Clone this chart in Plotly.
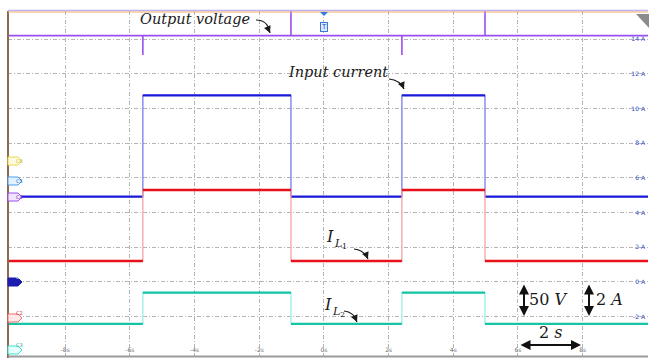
import plotly.graph_objects as go

# switching instants (s)
edge_times = [-5.6, -1.02, 2.41, 4.98]

# visible window: time (s) and vertical span on the 2 A/div scale
t_window = [-9.77, 10.02]
y_window = [-4.27, 15.62]

# channel levels on the right-hand scale (A)
input_current_low, input_current_high = 4.92, 10.75
il1_low, il1_high = 1.21, 5.30
il2_low, il2_high = -2.42, -0.62
vout_level = 14.2
vout_dip = 13.08   # undershoot at turn-on
vout_peak = 16.5   # overshoot at turn-off

x_ticks = [-8, -6, -4, -2, 0, 2, 4, 6, 8, 10]
x_tick_text = ["-8s", "-6s", "-4s", "-2s", "0s", "2s", "4s", "6s", "8s", "10s"]
y_ticks = [-2, 0, 2, 4, 6, 8, 10, 12, 14]
y_tick_text = ["-2 A", "0 A", "2 A", "4 A", "6 A", "8 A", "10 A", "12 A", "14 A"]

W, H = 649, 358
L, R, T, B = 8, 1, 11, 2
PW, PH = W - L - R, H - T - B


def px(xp):
    """screen x (px) -> time"""
    return t_window[0] + (xp - L) / PW * (t_window[1] - t_window[0])


def py(yp):
    """screen y (px) -> amps"""
    return y_window[1] - (yp - T) / PH * (y_window[1] - y_window[0])


def pxp(xp):
    return (xp - L) / PW


def pyp(yp):
    return 1 - (yp - T) / PH


def square(low, high):
    xs, ys = [t_window[0]], [low]
    level = low
    for i, te in enumerate(edge_times):
        new = high if i % 2 == 0 else low
        xs += [te, te]
        ys += [level, new]
        level = new
    xs.append(t_window[1])
    ys.append(level)
    return xs, ys


def flats(low, high):
    xs, ys = [t_window[0]], [low]
    level = low
    for i, te in enumerate(edge_times):
        new = high if i % 2 == 0 else low
        xs += [te, None, te]
        ys += [level, None, new]
        level = new
    xs.append(t_window[1])
    ys.append(level)
    return xs, ys


fig = go.Figure()

channels = [
    (input_current_low, input_current_high, "#1c1cd8", "#6f6ff0", 2.2),
    (il1_low, il1_high, "#e8101a", "#f59a9a", 2.6),
    (il2_low, il2_high, "#14c4a4", "#8ff0e4", 2.2),
]
for low, high, col, edge_col, w in channels:
    xs, ys = square(low, high)
    fig.add_trace(go.Scatter(x=xs, y=ys, mode="lines",
                             line=dict(color=edge_col, width=1.2),
                             hoverinfo="skip", showlegend=False))
    xs, ys = flats(low, high)
    fig.add_trace(go.Scatter(x=xs, y=ys, mode="lines",
                             line=dict(color=col, width=w),
                             hoverinfo="skip", showlegend=False))

# output voltage with switching spikes
vx, vy = [t_window[0]], [vout_level]
for i, te in enumerate(edge_times):
    spike = vout_dip if i % 2 == 0 else vout_peak
    vx += [te, te, te]
    vy += [vout_level, spike, vout_level]
vx.append(t_window[1])
vy.append(vout_level)
fig.add_trace(go.Scatter(x=vx, y=vy, mode="lines",
                         line=dict(color="#9a50f0", width=1.6),
                         hoverinfo="skip", showlegend=False))

shapes = []
# screen frame
shapes.append(dict(type="line", xref="paper", yref="paper", x0=0, x1=0, y0=-0.01, y1=1.0,
                   line=dict(color="#8b6b4b", width=2)))
shapes.append(dict(type="line", xref="paper", yref="paper", x0=0, x1=1, y0=pyp(356.5), y1=pyp(356.5),
                   line=dict(color="#9a9a9a", width=2)))
shapes.append(dict(type="line", xref="paper", yref="paper", x0=0, x1=1, y0=pyp(10.5), y1=pyp(10.5),
                   line=dict(color="#c0b0f4", width=1.5)))
shapes.append(dict(type="line", xref="paper", yref="paper", x0=0, x1=1, y0=pyp(12), y1=pyp(12),
                   line=dict(color="#f2b070", width=1)))
# corner marker
shapes.append(dict(type="path", xref="paper", yref="paper",
                   path=f"M {pxp(636)},{pyp(14)} L {pxp(649)},{pyp(14)} L {pxp(649)},{pyp(28)} Z",
                   fillcolor="#8c8c8c", line=dict(width=0)))
# trigger marker
shapes.append(dict(type="path", xref="paper", yref="paper",
                   path=f"M {pxp(320)},{pyp(12)} L {pxp(328)},{pyp(12)} L {pxp(324)},{pyp(16)} Z",
                   fillcolor="#3a7ad8", line=dict(width=0)))

# channel tags on the left edge
tags = [("C6", 161, "#e8d84a", "#fffbe0", "#c8b830"),
        ("C5", 181, "#4a9ef0", "#e4f2ff", "#2a6ec0"),
        ("C4", 197, "#9a50f0", "#f0e4ff", "#7030c0"),
        ("C8", 282, "#1c1cb0", "#1c1cb0", "#ffffff"),
        ("C2", 318, "#f07070", "#ffeaea", "#d04040"),
        ("C3", 350, "#40e0d0", "#e4fffc", "#20b0a0")]
annotations = []
for name, yc, edge, fill, txt in tags:
    shapes.append(dict(type="path", xref="paper", yref="paper",
                       path=(f"M {pxp(8)},{pyp(yc-4)} L {pxp(18)},{pyp(yc-4)} L {pxp(22)},{pyp(yc)} "
                             f"L {pxp(18)},{pyp(yc+4)} L {pxp(8)},{pyp(yc+4)} Z"),
                       fillcolor=fill, line=dict(color=edge, width=1)))
    annotations.append(dict(xref="paper", yref="paper", x=pxp(14), y=pyp(yc), text=name,
                            showarrow=False, font=dict(size=5, color=txt, family="DejaVu Sans")))

annotations.append(dict(xref="paper", yref="paper", x=pxp(324), y=pyp(22), text="T",
                        showarrow=False, bgcolor="#dce9ff", bordercolor="#3a7ad8",
                        borderwidth=1, borderpad=0, font=dict(size=7, color="#2050c0",
                                                              family="DejaVu Sans")))

serif = "DejaVu Serif"
ink = "#1a1a1a"
label_font = dict(family=serif, size=14.5, color=ink)

# curved pointers
curves = [
    ((256, 20), (268, 20), (270, 33)),
    ((389, 79), (400, 80), (404, 89)),
    ((354, 249), (364, 250), (368, 259)),
    ((344, 311), (354, 312), (357, 322)),
]
for (a, b), (c, d), (e, f) in curves:
    shapes.append(dict(type="path", xref="x", yref="y",
                       path=f"M {px(a)},{py(b)} Q {px(c)},{py(d)} {px(e)},{py(f)}",
                       line=dict(color=ink, width=1.2)))
    annotations.append(dict(x=px(e), y=py(f), ax=-2.5, ay=-6, text="", showarrow=True,
                            arrowhead=2, arrowsize=1, arrowwidth=1.4, arrowcolor=ink,
                            standoff=0))

annotations += [
    dict(x=px(195), y=py(19), text="<i>Output voltage</i>", showarrow=False, font=label_font),
    dict(x=px(338), y=py(72), text="<i>Input current</i>", showarrow=False, font=label_font),
    dict(x=px(548), y=py(299), text="50 <i>V</i>", showarrow=False,
         font=dict(family=serif, size=16, color=ink)),
    dict(x=px(609), y=py(299), text="2 <i>A</i>", showarrow=False,
         font=dict(family=serif, size=16, color=ink)),
    dict(x=px(550), y=py(332), text="2 <i>s</i>", showarrow=False,
         font=dict(family=serif, size=16, color=ink)),
]

# inductor current labels: I, subscript L, sub-subscript index
for (xi, yi), idx in [((330, 236), "1"), ((328, 304), "2")]:
    annotations += [
        dict(x=px(xi), y=py(yi), text="<i>I</i>", showarrow=False,
             font=dict(family=serif, size=16, color=ink)),
        dict(x=px(xi + 8), y=py(yi + 7), text="<i>L</i>", showarrow=False,
             font=dict(family=serif, size=11, color=ink)),
        dict(x=px(xi + 14), y=py(yi + 10), text=idx, showarrow=False,
             font=dict(family=serif, size=8, color=ink)),
    ]

# scale bars
for (x0, y0, x1, y1) in [(524, 316, 524, 283), (589, 316, 589, 283), (581, 345, 519, 345)]:
    annotations.append(dict(x=px(x0), y=py(y0), ax=px(x1), ay=py(y1), axref="x", ayref="y",
                            text="", showarrow=True, arrowside="end+start", arrowhead=2,
                            arrowsize=1, arrowwidth=2, arrowcolor="#111111", standoff=0,
                            startstandoff=0))

grid = dict(showgrid=True, gridcolor="#b4b4b4", gridwidth=1, griddash="4px,2px,1px,2px",
            zeroline=False, showline=False, ticks="")

fig.update_layout(
    width=W, height=H,
    margin=dict(l=L, r=R, t=T, b=B),
    paper_bgcolor="white", plot_bgcolor="white",
    xaxis=dict(range=t_window, tickvals=x_ticks, ticktext=x_tick_text,
               ticklabelposition="inside", tickfont=dict(size=6, color="#707070",
                                                          family="DejaVu Sans"), **grid),
    yaxis=dict(range=y_window, tickvals=y_ticks, ticktext=y_tick_text, side="right",
               ticklabelposition="inside", tickfont=dict(size=6, color="#2a40c8",
                                                          family="DejaVu Sans"), **grid),
    shapes=shapes,
    annotations=annotations,
    showlegend=False,
)

fig.write_html("out.html")
